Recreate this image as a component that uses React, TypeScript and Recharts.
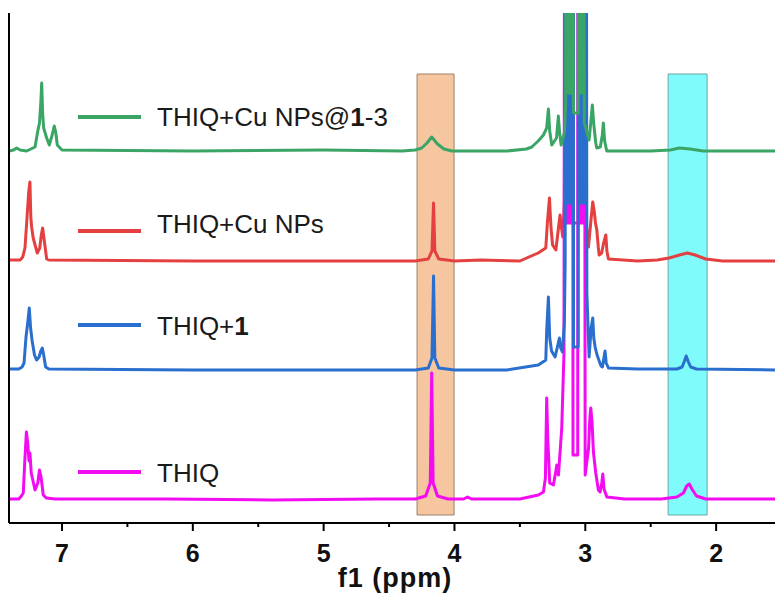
import { Line, LineChart, ReferenceArea, ReferenceLine, XAxis, YAxis } from 'recharts';

type Pt = [number, number];

// x: chemical shift (ppm), y: stacked intensity (arbitrary units, plot spans 0..510)
const PPM_DOMAIN: [number, number] = [1.55, 7.405];
const Y_DOMAIN: [number, number] = [0, 510];
const MAJOR_TICKS = [7, 6, 5, 4, 3, 2];
const MINOR_TICKS = [6.5, 5.5, 4.5, 3.5, 2.5];
const AXIS_TITLE = 'f1 (ppm)';

// highlighted shift windows (ppm) and their vertical extent
const BOX_CH2N: [number, number] = [4.286, 4.003];
const BOX_NH: [number, number] = [2.367, 2.069];
const BOX_Y: [number, number] = [8, 449];

// THIQ (bottom trace)
const thiq: Pt[] = [
  [7.405, 24], [7.33, 24], [7.31, 27], [7.296, 30], [7.285, 60], [7.272, 91], [7.262, 80],
  [7.252, 62], [7.245, 70], [7.235, 50], [7.206, 33], [7.185, 40], [7.172, 53], [7.16, 46],
  [7.143, 28], [7.12, 25], [7.05, 24], [6.2, 24], [5.4, 23], [4.6, 24], [4.3, 24], [4.22, 27],
  [4.185, 40], [4.174, 150], [4.163, 40], [4.13, 27], [4.05, 24], [3.93, 24], [3.9, 26],
  [3.87, 24], [3.5, 24], [3.359, 28], [3.32, 31], [3.305, 45], [3.295, 125], [3.286, 80],
  [3.282, 71], [3.272, 40], [3.244, 38], [3.225, 52], [3.218, 58], [3.205, 48], [3.18, 95],
  [3.163, 170],
  [3.156, 900], [3.15, 300], [3.144, 900], [3.138, 300], [3.132, 900], [3.126, 300],
  [3.12, 900], [3.114, 300], [3.108, 900], [3.102, 300], [3.096, 900],
  [3.094, 68], [3.058, 68],
  [3.056, 900], [3.05, 300], [3.044, 900], [3.038, 300], [3.032, 900], [3.026, 300],
  [3.02, 900], [3.014, 300], [3.008, 900],
  [3.001, 48], [2.975, 75], [2.965, 105], [2.958, 115], [2.948, 100], [2.938, 71], [2.92, 50],
  [2.9, 33], [2.887, 31], [2.874, 40], [2.866, 49], [2.857, 34], [2.835, 26], [2.7, 24],
  [2.42, 24], [2.3, 26], [2.25, 30], [2.225, 37], [2.205, 39], [2.185, 34], [2.15, 27],
  [2.08, 24], [1.8, 24], [1.55, 24],
];

// THIQ+1
const thiqL: Pt[] = [
  [7.405, 154], [7.33, 154], [7.305, 156], [7.29, 160], [7.275, 186], [7.262, 200],
  [7.25, 215], [7.24, 195], [7.228, 182], [7.21, 168], [7.194, 163], [7.175, 166],
  [7.162, 172], [7.15, 175], [7.14, 168], [7.125, 156], [7.1, 154], [6.0, 153], [5.0, 153],
  [4.3, 153], [4.2, 155], [4.172, 165], [4.16, 247], [4.15, 165], [4.12, 155], [4.0, 153],
  [3.6, 153], [3.359, 158], [3.302, 163], [3.295, 193], [3.282, 226], [3.272, 185],
  [3.258, 172], [3.231, 166], [3.21, 178], [3.198, 185], [3.188, 175], [3.175, 171],
  [3.16, 200], [3.154, 260],
  [3.15, 900], [3.144, 320], [3.138, 900], [3.132, 320], [3.126, 900], [3.12, 320],
  [3.114, 900], [3.108, 320], [3.102, 900], [3.096, 320], [3.092, 900],
  [3.09, 176], [3.054, 176],
  [3.052, 900], [3.046, 320], [3.04, 900], [3.034, 320], [3.028, 900], [3.022, 320],
  [3.016, 900], [3.01, 320], [3.004, 900], [2.998, 320], [2.994, 900], [2.988, 230],
  [2.971, 166], [2.955, 195], [2.943, 205], [2.935, 185], [2.925, 176], [2.91, 168],
  [2.88, 157], [2.869, 156], [2.858, 165], [2.849, 172], [2.84, 160], [2.823, 155],
  [2.6, 154], [2.3, 154], [2.26, 156], [2.242, 162], [2.229, 167], [2.215, 162],
  [2.195, 156], [2.15, 154], [1.55, 153],
];

// THIQ+Cu NPs
const thiqCu: Pt[] = [
  [7.405, 263], [7.32, 263], [7.3, 266], [7.283, 275], [7.27, 300], [7.255, 330],
  [7.245, 341], [7.238, 305], [7.232, 296], [7.22, 285], [7.189, 270], [7.17, 275],
  [7.158, 288], [7.148, 295], [7.138, 285], [7.117, 264], [7.1, 263], [6.0, 262],
  [5.0, 262], [4.3, 262], [4.2, 264], [4.172, 272], [4.16, 320], [4.15, 272], [4.12, 264],
  [4.0, 262], [3.8, 263], [3.5, 262], [3.36, 270], [3.302, 275], [3.29, 300],
  [3.274, 325], [3.262, 295], [3.25, 278], [3.225, 273], [3.205, 295], [3.193, 308],
  [3.183, 296], [3.172, 286], [3.16, 320],
  [3.144, 900], [3.138, 380], [3.132, 900], [3.126, 380], [3.12, 900], [3.114, 380],
  [3.108, 900], [3.102, 380], [3.096, 900],
  [3.094, 300], [3.054, 300],
  [3.05, 900], [3.044, 380], [3.038, 900], [3.032, 380], [3.026, 900], [3.02, 380],
  [3.014, 900], [3.008, 320],
  [2.976, 276], [2.955, 305], [2.943, 321], [2.932, 312], [2.922, 300], [2.912, 293],
  [2.9, 275], [2.894, 268], [2.875, 270], [2.86, 280], [2.843, 288], [2.835, 272],
  [2.823, 264], [2.6, 262], [2.45, 263], [2.36, 265], [2.28, 268], [2.22, 270],
  [2.16, 268], [2.08, 264], [1.95, 262], [1.55, 262],
];

// THIQ+Cu NPs@1-3 (top trace)
const thiqCuL: Pt[] = [
  [7.405, 372], [7.37, 373], [7.347, 375], [7.32, 373], [7.27, 372], [7.206, 376],
  [7.185, 392], [7.172, 400], [7.162, 420], [7.155, 440], [7.148, 410], [7.14, 395],
  [7.117, 385], [7.097, 378], [7.075, 388], [7.059, 397], [7.047, 390], [7.036, 378],
  [7.0, 373], [6.0, 372], [5.0, 373], [4.4, 372], [4.3, 373], [4.25, 375], [4.21, 380],
  [4.174, 386], [4.13, 379], [4.08, 374], [4.02, 372], [3.6, 372], [3.45, 374],
  [3.409, 376], [3.36, 382], [3.32, 388], [3.295, 395], [3.282, 414], [3.272, 392],
  [3.256, 378], [3.22, 385], [3.206, 407], [3.196, 390], [3.185, 378], [3.16, 390],
  [3.15, 420],
  [3.144, 900], [3.138, 430], [3.132, 900], [3.126, 430], [3.12, 900], [3.114, 430],
  [3.108, 900], [3.102, 430], [3.096, 900], [3.092, 430],
  [3.09, 410], [3.054, 410],
  [3.05, 900], [3.044, 430], [3.038, 900], [3.032, 430], [3.026, 900], [3.02, 430],
  [3.014, 900], [3.008, 400],
  [2.985, 390], [2.971, 383], [2.955, 405], [2.946, 418], [2.936, 400], [2.92, 380],
  [2.912, 375], [2.885, 376], [2.87, 388], [2.862, 400], [2.852, 382], [2.836, 372],
  [2.5, 372], [2.35, 373], [2.28, 375], [2.2, 374], [2.1, 372], [1.55, 372],
];

// drawn bottom to top so the upper traces sit on the shared 3 ppm columns
const SERIES = [
  { name: 'THIQ+Cu NPs', color: '#e3403f', data: thiqCu },
  { name: 'THIQ', color: '#f20cf2', data: thiq },
  { name: 'THIQ+1', color: '#2b6fce', data: thiqL },
  { name: 'THIQ+Cu NPs@1-3', color: '#3ba565', data: thiqCuL },
];

const LEGEND = [
  { color: '#3ba565', lineY: 117, textY: 126, label: <>THIQ+Cu NPs@<tspan fontWeight={700}>1</tspan>-3</> },
  { color: '#e3403f', lineY: 231, textY: 233, label: <>THIQ+Cu NPs</> },
  { color: '#2b6fce', lineY: 325, textY: 335, label: <>THIQ+<tspan fontWeight={700}>1</tspan></> },
  { color: '#f20cf2', lineY: 472, textY: 482, label: <>THIQ</> },
];

const FONT = "'Liberation Sans', Arial, sans-serif";

function PpmTick({ x, y, payload }: any) {
  const v = payload.value as number;
  const major = Number.isInteger(v);
  return (
    <g>
      <line x1={x} x2={x} y1={y} y2={y + (major ? 8 : 4)} stroke="#000" strokeWidth={2} />
      {major && (
        <text x={x} y={y + 39} textAnchor="middle" fontFamily={FONT} fontWeight={700} fontSize={25} fill="#111">
          {v}
        </text>
      )}
    </g>
  );
}

export default function App() {
  const toRows = (pts: Pt[]) => pts.map(([x, y]) => ({ x, y }));

  return (
    <div style={{ position: 'relative', width: 775, height: 596, overflow: 'hidden', background: '#fff' }}>
      <style>{'body{margin:0}'}</style>
      <LineChart width={775} height={596} margin={{ top: 13, right: 0, bottom: 0, left: 9 }}>
        <XAxis
          dataKey="x"
          type="number"
          domain={PPM_DOMAIN}
          reversed
          allowDataOverflow
          ticks={[...MAJOR_TICKS, ...MINOR_TICKS]}
          interval={0}
          tick={<PpmTick />}
          tickLine={false}
          tickSize={0}
          tickMargin={0}
          height={73}
          axisLine={{ stroke: '#000', strokeWidth: 2 }}
          label={{
            value: AXIS_TITLE,
            position: 'insideBottom',
            offset: 9,
            dx: 3,
            style: { fontFamily: FONT, fontWeight: 700, fontSize: 27, fill: '#111', letterSpacing: 1 },
          }}
        />
        <XAxis
          xAxisId="top"
          orientation="top"
          type="number"
          domain={PPM_DOMAIN}
          reversed
          allowDataOverflow
          tick={false}
          tickLine={false}
          height={0}
          axisLine={{ stroke: '#000', strokeWidth: 2 }}
        />
        <YAxis type="number" domain={Y_DOMAIN} allowDataOverflow hide />
        <ReferenceArea
          x1={BOX_CH2N[0]}
          x2={BOX_CH2N[1]}
          y1={BOX_Y[0]}
          y2={BOX_Y[1]}
          fill="#f6c6a0"
          fillOpacity={1}
          stroke="#9c8068"
          strokeWidth={1}
        />
        <ReferenceArea
          x1={BOX_NH[0]}
          x2={BOX_NH[1]}
          y1={BOX_Y[0]}
          y2={BOX_Y[1]}
          fill="#80fbfb"
          fillOpacity={1}
          stroke="#6aa6a8"
          strokeWidth={1}
        />
        {SERIES.map((s) => (
          <Line
            key={s.name}
            name={s.name}
            data={toRows(s.data)}
            dataKey="y"
            type="linear"
            stroke={s.color}
            strokeWidth={3}
            strokeLinejoin="round"
            dot={false}
            activeDot={false}
            isAnimationActive={false}
          />
        ))}
        <ReferenceLine x={PPM_DOMAIN[1]} stroke="#000" strokeWidth={2} ifOverflow="visible" />
      </LineChart>
      <svg width={775} height={596} style={{ position: 'absolute', left: 0, top: 0, pointerEvents: 'none' }}>
        {LEGEND.map((l, i) => (
          <g key={i}>
            <line x1={78} x2={141} y1={l.lineY} y2={l.lineY} stroke={l.color} strokeWidth={4} />
            <text x={157} y={l.textY} fontFamily={FONT} fontSize={26} fill="#1a1a1a">
              {l.label}
            </text>
          </g>
        ))}
      </svg>
    </div>
  );
}
